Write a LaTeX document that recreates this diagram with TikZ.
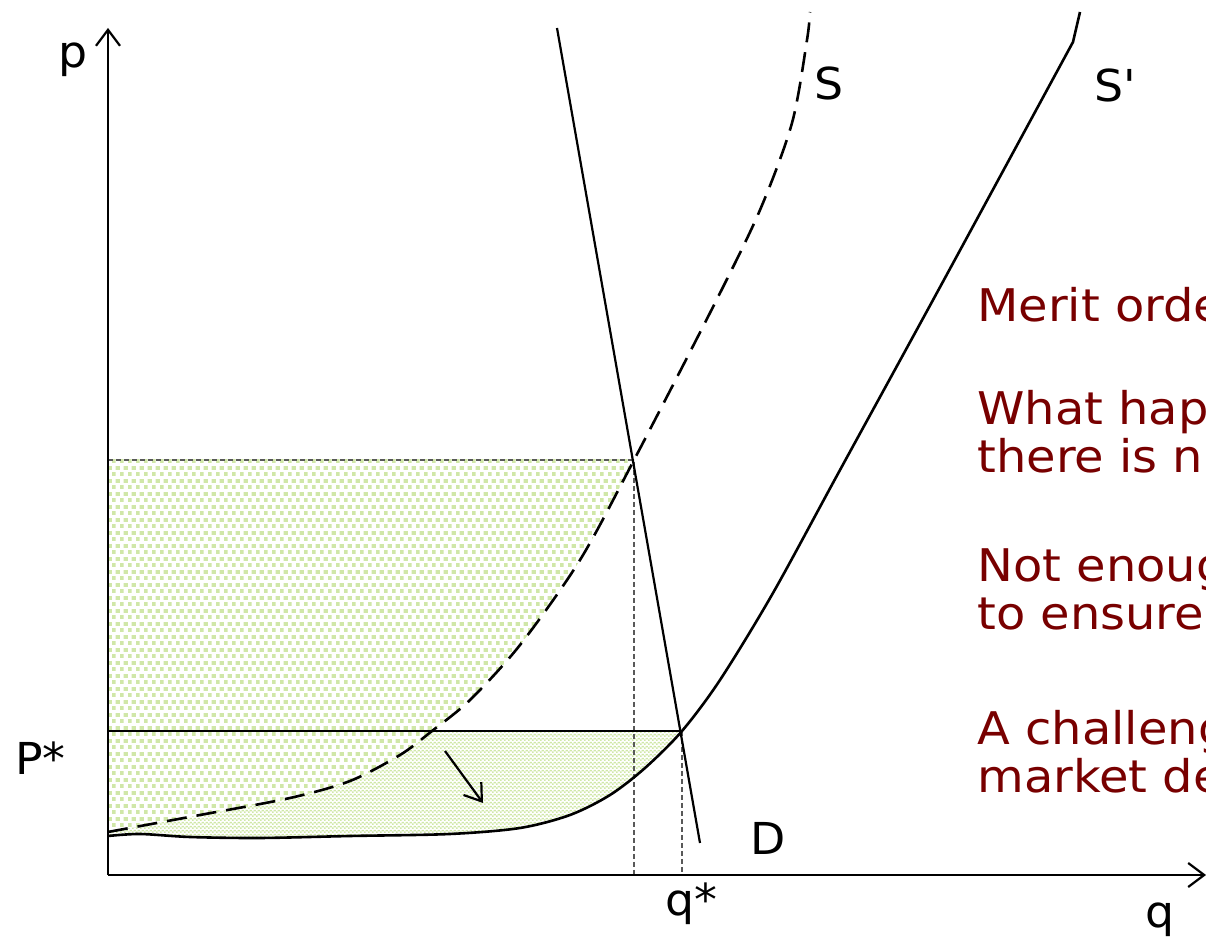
\documentclass[tikz,border=0pt]{standalone}
\usepackage{fontspec}
\setmainfont{DejaVu Sans}
\newfontfamily\notefont[FakeStretch=1.065]{DejaVu Sans}
\newfontfamily\lblfont[FakeStretch=1.04]{DejaVu Sans}
\usetikzlibrary{arrows.meta,patterns.meta}
\definecolor{txtred}{RGB}{120,0,0}
\definecolor{chkgreen}{RGB}{208,231,168}
\tikzdeclarepattern{
  name=coarsechk, type=colored,
  bounding box={(0pt,0pt) and (4pt,6.6pt)},
  tile size={(4pt,6.6pt)},
  code={\fill[chkgreen] (0pt,0pt) rectangle (2pt,2pt);
        \fill[chkgreen] (2pt,3.3pt) rectangle (4pt,5.3pt);}
}
\tikzdeclarepattern{
  name=finechk, type=colored,
  bounding box={(0pt,0pt) and (2pt,2pt)},
  tile size={(2pt,2pt)},
  code={\fill[chkgreen] (0pt,0pt) rectangle (1pt,1pt);
        \fill[chkgreen] (1pt,1pt) rectangle (2pt,2pt);}
}
\begin{document}
\begin{tikzpicture}[x=0.5pt,y=-0.5pt,
  curve/.style={line width=1.3pt,black},
  dline/.style={line width=1.1pt,black},
  axisline/.style={line width=1.1pt,-{Straight Barb[length=8pt,width=12pt,line width=1.1pt]}},
  guide/.style={black!65,line width=0.6pt,dash pattern=on 2.5pt off 1.5pt},
  lbl/.style={font=\lblfont\fontsize{22}{24}\selectfont,anchor=base west,inner sep=0pt},
  note/.style={font=\notefont\fontsize{22.5}{24}\selectfont,anchor=base west,inner sep=0pt,text=txtred}]
\useasboundingbox (0,0) rectangle (1206,945);
\clip (0,0) rectangle (1206,945);
% named points
\coordinate (O) at (108,875);
\coordinate (ytop) at (108,28);
\coordinate (xend) at (1206,875);
\coordinate (Dtop) at (557,28);
\coordinate (Dbot) at (700,843);
\coordinate (E1) at (634,460);
\coordinate (E1y) at (108,460);
\coordinate (E1x) at (634,875);
\coordinate (E2) at (682,731);
\coordinate (E2y) at (108,731);
\coordinate (E2x) at (682,875);
\coordinate (arrA) at (445,751);
\coordinate (arrB) at (483,803);
% fine fill (below P*, above S')
\begin{scope}
\clip (108,731) rectangle (1206,875);
\fill[pattern=finechk] plot[smooth] coordinates {(108,836) (140,834) (190,837) (260,838) (350,836) (450,834) (520,828) (570,815) (610,795) (645,768) (682,731) (720,680) (773,593) (840,470) (933,300) (1073,42)} -- (1080,12) -- (108,12) -- cycle;
\end{scope}
% coarse fill (below first price, left of S)
\begin{scope}
\clip (108,460) rectangle (1206,875);
\fill[white] plot[smooth] coordinates {(108,832) (200,815) (290,798) (350,781) (400,755) (432,731) (470,700) (520,645) (580,560) (634,460) (715,303) (760,210) (792,123) (807,40) (810,12)} -- (108,12) -- cycle;
\fill[pattern=coarsechk] plot[smooth] coordinates {(108,832) (200,815) (290,798) (350,781) (400,755) (432,731) (470,700) (520,645) (580,560) (634,460) (715,303) (760,210) (792,123) (807,40) (810,12)} -- (108,12) -- cycle;
\end{scope}
% guides
\draw[guide] (E1y) -- (E1) -- (E1x);
\draw[guide] (E2) -- (E2x);
% P* line
\draw[dline] (E2y) -- (E2);
% axes
\draw[axisline] (O) -- (ytop);
\draw[axisline] (O) -- (xend);
% demand
\draw[dline] (Dtop) -- (Dbot);
% supply S (dashed)
\draw[curve,dash pattern=on 10pt off 5pt] plot[smooth] coordinates {(108,832) (200,815) (290,798) (350,781) (400,755) (432,731) (470,700) (520,645) (580,560) (634,460) (715,303) (760,210) (792,123) (807,40) (810,12)};
% supply S'
\draw[curve] plot[smooth] coordinates {(108,836) (140,834) (190,837) (260,838) (350,836) (450,834) (520,828) (570,815) (610,795) (645,768) (682,731) (720,680) (773,593) (840,470) (933,300) (1073,42)} -- (1080,12);
% shift arrow
\draw[dline,-{Straight Barb[length=8pt,width=11pt,line width=1.1pt]}] (arrA) -- (arrB);
% labels
\node[lbl] (lp) at (58,68) {p};
\node[lbl] (lS) at (814,100) {S};
\node[lbl] (lSp) at (1094,102) {S\textquotesingle};
\node[lbl] (lP) at (15,775) {P*};
\node[lbl] (lD) at (750,855) {D};
\node[lbl] (lqs) at (665,916) {q*};
\node[lbl] (lq) at (1145,928) {q};
% notes
\node[note] (n1) at (977,322) {Merit orde};
\node[note] (n2) at (977,425) {What hap};
\node[note] (n3) at (977,473) {there is n};
\node[note] (n4) at (977,582) {Not enoug};
\node[note] (n5) at (977,630) {to ensure};
\node[note] (n6) at (977,745) {A challeng};
\node[note] (n7) at (977,793) {market de};
\end{tikzpicture}
\end{document}
